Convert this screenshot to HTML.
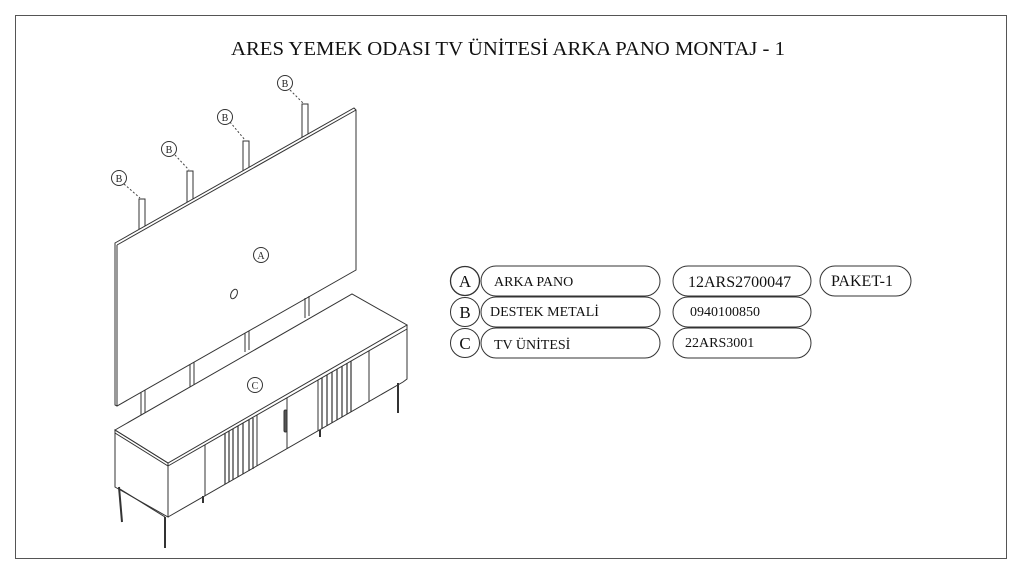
<!DOCTYPE html>
<html><head><meta charset="utf-8"><style>
html,body{margin:0;padding:0;background:#fff;}
svg{display:block;font-family:"Liberation Serif",serif;}
</style></head><body>
<svg width="1024" height="576" viewBox="0 0 1024 576" xmlns="http://www.w3.org/2000/svg">
<rect x="15.5" y="15.5" width="991" height="543" fill="#fff" stroke="#555" stroke-width="1"/>
<text x="231" y="55" font-size="20" textLength="554" lengthAdjust="spacingAndGlyphs" fill="#111">ARES YEMEK ODASI TV ÜNİTESİ ARKA PANO MONTAJ - 1</text>

<g stroke="#333" stroke-width="1" fill="none">
<!-- posts above panel -->
<g fill="#fff">
<rect x="139" y="199" width="6" height="36"/>
<rect x="187" y="171" width="6" height="36"/>
<rect x="243" y="141" width="6" height="34"/>
<rect x="302" y="104" width="6" height="38"/>
</g>
<!-- panel -->
<polygon points="115,243 354,108 356,110 356,270 117,406 115,405" fill="#fff"/>
<line x1="117" y1="245" x2="356" y2="110"/>
<line x1="117" y1="245" x2="117" y2="406"/>
<ellipse cx="234" cy="294" rx="3" ry="5" transform="rotate(25 234 294)"/>
<!-- posts below panel -->
<line x1="141" y1="392" x2="141" y2="420"/><line x1="145" y1="390" x2="145" y2="418"/>
<line x1="190" y1="364" x2="190" y2="394"/><line x1="194" y1="362" x2="194" y2="392"/>
<line x1="245" y1="333" x2="245" y2="352"/><line x1="249" y1="331" x2="249" y2="350"/>
<line x1="305" y1="298" x2="305" y2="318"/><line x1="309" y1="296" x2="309" y2="316"/>
<!-- cabinet top -->
<polygon points="115,430 352,294 407,325 168,463" fill="#fff"/>
<polygon points="115,430 168,463 168,466 115,433"/>
<line x1="168" y1="466" x2="407" y2="329"/><line x1="407" y1="325" x2="407" y2="329"/>
<!-- side face -->
<polyline points="115,433 115,487 168,517 168,466"/>
<!-- front face -->
<polyline points="168,517 403,382 407,379 407,329"/>
<!-- door divisions -->
<line x1="205" y1="445" x2="205" y2="496"/>
<line x1="257" y1="415" x2="257" y2="466"/>
<line x1="287" y1="398" x2="287" y2="449"/>
<line x1="318" y1="380" x2="318" y2="431"/>
<line x1="369" y1="351" x2="369" y2="402"/>
<!-- flutes -->
<g stroke-width="1.2">
<line x1="225" y1="433" x2="225" y2="484"/><line x1="229" y1="431" x2="229" y2="482"/>
<line x1="233" y1="429" x2="233" y2="480"/><line x1="238" y1="426" x2="238" y2="477"/>
<line x1="243" y1="423" x2="243" y2="474"/><line x1="249" y1="420" x2="249" y2="471"/>
<line x1="253" y1="418" x2="253" y2="469"/>
<line x1="322" y1="378" x2="322" y2="429"/><line x1="327" y1="375" x2="327" y2="426"/>
<line x1="332" y1="372" x2="332" y2="423"/><line x1="337" y1="369" x2="337" y2="420"/>
<line x1="342" y1="366" x2="342" y2="417"/><line x1="347" y1="363" x2="347" y2="414"/>
<line x1="351" y1="361" x2="351" y2="412"/>
</g>
<rect x="284" y="410" width="3" height="22" rx="1.5" fill="#555"/>
<!-- legs -->
<line x1="165" y1="517" x2="165" y2="548" stroke-width="2"/>
<line x1="119" y1="487" x2="122" y2="522" stroke-width="2"/>
<line x1="398" y1="383" x2="398" y2="413" stroke-width="2"/>
<line x1="120" y1="489" x2="165" y2="517"/>
<line x1="203" y1="496" x2="203" y2="503" stroke-width="2"/>
<line x1="320" y1="430" x2="320" y2="437" stroke-width="2"/>
<!-- balloons -->
<g stroke="#444" stroke-dasharray="2,2">
<line x1="124" y1="184" x2="140" y2="198"/>
<line x1="175" y1="155" x2="189" y2="170"/>
<line x1="230" y1="122" x2="245" y2="140"/>
<line x1="290" y1="90" x2="304" y2="104"/>
</g>
<g fill="#fff">
<circle cx="119" cy="178" r="7.5"/><circle cx="169" cy="149" r="7.5"/>
<circle cx="225" cy="117" r="7.5"/><circle cx="285" cy="83" r="7.5"/>
<circle cx="261" cy="255" r="7.5"/><circle cx="255" cy="385" r="7.5"/>
</g>
</g>
<g font-size="10" text-anchor="middle" fill="#222">
<text x="119" y="182">B</text><text x="169" y="153">B</text>
<text x="225" y="121">B</text><text x="285" y="87">B</text>
<text x="261" y="259">A</text><text x="255" y="389">C</text>
</g>

<!-- table -->
<g stroke="#333" stroke-width="1" fill="#fff">
<circle cx="465" cy="281" r="14.5" stroke-width="1.3"/>
<circle cx="465" cy="312" r="14.5"/>
<circle cx="465" cy="343" r="14.5"/>
<rect x="481" y="266" width="179" height="30" rx="15"/>
<rect x="481" y="297" width="179" height="30" rx="15"/>
<rect x="481" y="328" width="179" height="30" rx="15"/>
<rect x="673" y="266" width="138" height="30" rx="15"/>
<rect x="673" y="297" width="138" height="30" rx="15"/>
<rect x="673" y="328" width="138" height="30" rx="15"/>
<rect x="820" y="266" width="91" height="30" rx="15"/>
</g>
<g fill="#111" font-size="17">
<text x="465" y="287" text-anchor="middle">A</text>
<text x="465" y="318" text-anchor="middle">B</text>
<text x="465" y="349" text-anchor="middle">C</text>
</g>
<g fill="#111" font-size="14">
<text x="494" y="286">ARKA PANO</text>
<text x="490" y="316">DESTEK METALİ</text>
<text x="494" y="349">TV ÜNİTESİ</text>
<text x="690" y="316">0940100850</text>
<text x="685" y="347">22ARS3001</text>
</g>
<g fill="#111" font-size="16">
<text x="688" y="287">12ARS2700047</text>
<text x="831" y="286">PAKET-1</text>
</g>
</svg>
</body></html>
